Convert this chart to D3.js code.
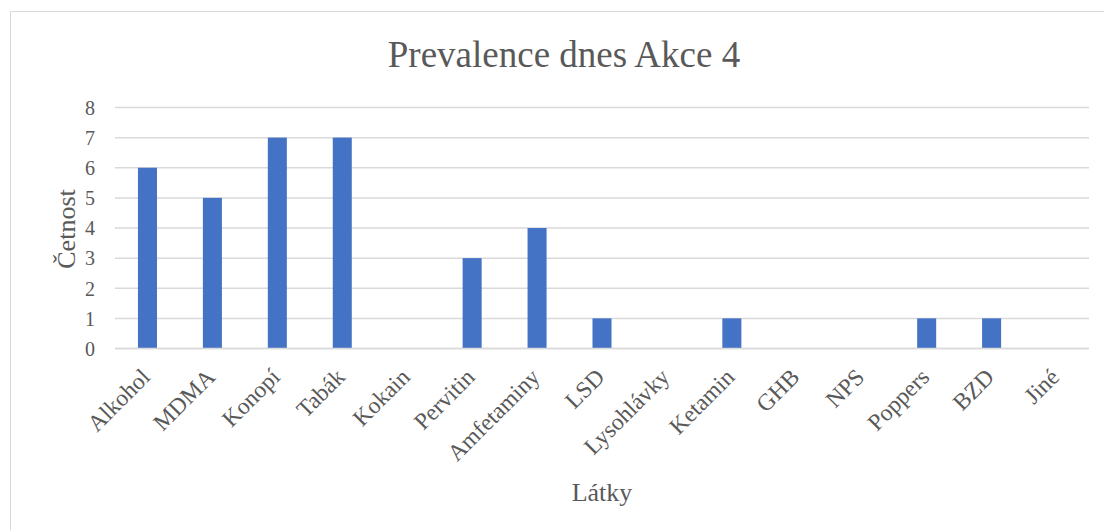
<!DOCTYPE html>
<html>
<head>
<meta charset="utf-8">
<script src="https://cdn.jsdelivr.net/npm/d3@7"></script>
<style>
  html, body { margin: 0; padding: 0; background: #fff; }
  svg { display: block; }
  text { font-family: "Liberation Serif", "Times New Roman", serif; fill: #595959; }
</style>
</head>
<body>
<svg id="chart" width="1104" height="530"></svg>
<script>
const categories = ["Alkohol", "MDMA", "Konopí", "Tabák", "Kokain", "Pervitin", "Amfetaminy", "LSD", "Lysohlávky", "Ketamin", "GHB", "NPS", "Poppers", "BZD", "Jiné"];
const values = [6, 5, 7, 7, 0, 3, 4, 1, 0, 1, 0, 0, 1, 1, 0];
const yTicks = [0, 1, 2, 3, 4, 5, 6, 7, 8];
const title = "Prevalence dnes Akce 4";
const xTitle = "Látky";
const yTitle = "Četnost";

const svg = d3.select("#chart");
const W = 1104, H = 530;
const plot = { left: 115, right: 1089, top: 107.5, bottom: 348.5 };

// outer border
svg.append("rect")
  .attr("x", 10.5).attr("y", 11.5)
  .attr("width", W).attr("height", H)
  .attr("fill", "#fff").attr("stroke", "#d9d9d9").attr("stroke-width", 1);

const x = d3.scaleBand()
  .domain(categories)
  .range([plot.left, plot.right])
  .paddingInner(0.707)
  .paddingOuter(0.3535);

const y = d3.scaleLinear()
  .domain([0, 8])
  .range([plot.bottom, plot.top]);

// gridlines
svg.append("g")
  .selectAll("line")
  .data(yTicks)
  .join("line")
  .attr("x1", plot.left).attr("x2", plot.right)
  .attr("y1", d => y(d)).attr("y2", d => y(d))
  .attr("stroke", "#d9d9d9").attr("stroke-width", 1.5);

// y axis labels
const yAxis = d3.axisLeft(y).tickValues(yTicks).tickSize(0).tickPadding(0).tickFormat(d3.format("d"));
const gy = svg.append("g").attr("transform", `translate(${plot.left - 20},0)`).call(yAxis);
gy.select(".domain").remove();
gy.selectAll("text")
  .style("font-family", '"Liberation Serif", "Times New Roman", serif')
  .style("font-size", "20px")
  .attr("fill", "#595959")
  .attr("dy", "0.34em");

// bars
svg.append("g")
  .selectAll("rect")
  .data(categories.map((c, i) => ({ c, v: values[i] })))
  .join("rect")
  .attr("x", d => x(d.c))
  .attr("width", x.bandwidth())
  .attr("y", d => y(d.v))
  .attr("height", d => y(0) - y(d.v))
  .attr("fill", "#4472C4");

// baseline redraw over bars
svg.append("line")
  .attr("x1", plot.left).attr("x2", plot.right)
  .attr("y1", y(0)).attr("y2", y(0))
  .attr("stroke", "#d9d9d9").attr("stroke-width", 1.5);

// x axis labels
const xAxis = d3.axisBottom(x).tickSize(0).tickPadding(0);
const gx = svg.append("g").attr("transform", `translate(0,${plot.bottom})`).call(xAxis);
gx.select(".domain").remove();
gx.selectAll("text")
  .style("font-family", '"Liberation Serif", "Times New Roman", serif')
  .style("font-size", "23.5px")
  .attr("fill", "#595959")
  .attr("text-anchor", "end")
  .attr("dy", null)
  .attr("y", 0)
  .attr("transform", "translate(4,30) rotate(-45)");

// title
svg.append("text")
  .attr("x", 564).attr("y", 66.5)
  .attr("text-anchor", "middle")
  .style("font-size", "37px")
  .text(title);

// x title
svg.append("text")
  .attr("x", 602).attr("y", 500.5)
  .attr("text-anchor", "middle")
  .style("font-size", "26px")
  .text(xTitle);

// y title
svg.append("text")
  .attr("transform", "translate(75,229) rotate(-90)")
  .attr("text-anchor", "middle")
  .style("font-size", "26px")
  .text(yTitle);
</script>
</body>
</html>
